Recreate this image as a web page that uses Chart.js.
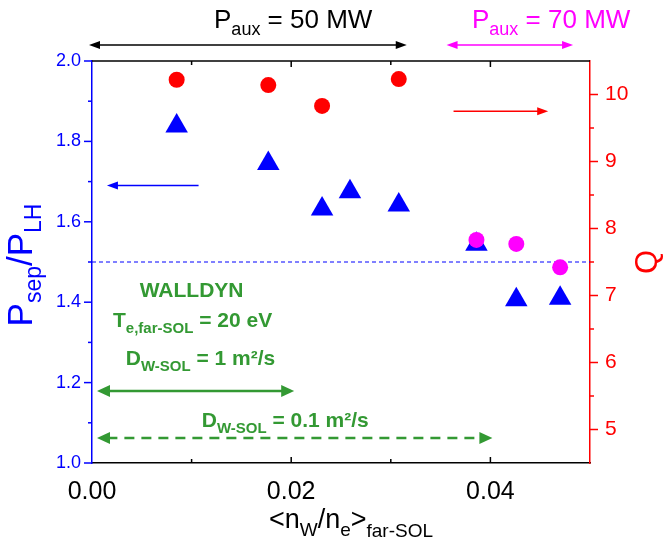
<!DOCTYPE html>
<html>
<head>
<meta charset="utf-8">
<script src="https://cdn.jsdelivr.net/npm/chart.js@4"></script>
<style>
  body { margin: 0; background: #fff; }
  canvas { display: block; }
</style>
</head>
<body>
<canvas id="chart" width="664" height="545"></canvas>
<script>
// data
var nW = [0.0085, 0.0177, 0.0231, 0.0259, 0.0308, 0.0386, 0.0426, 0.0470];
var pRatio = [1.838, 1.745, 1.632, 1.675, 1.642, 1.544, 1.406, 1.410];
var nW50 = [0.0085, 0.0177, 0.0231, 0.0308];
var q50 = [10.22, 10.14, 9.83, 10.23];
var nW70 = [0.0386, 0.0426, 0.0470];
var q70 = [7.83, 7.77, 7.42];
var xTickLabels = ['0.00', '0.02', '0.04'];

var FONT = '"Liberation Sans", Arial, sans-serif';
var GREEN = '#339933';

function pts(xs, ys) {
    return xs.map(function(x, i) { return {x: x, y: ys[i]}; });
}

// draw text made of pieces (for subscripts)
function rich(ctx, parts, x, y, align, color) {
    var w = 0;
    parts.forEach(function(p) {
        ctx.font = (p[3] ? 'bold ' : '') + p[1] + 'px ' + FONT;
        p.w = ctx.measureText(p[0]).width;
        w += p.w;
    });
    var sx = align === 'center' ? x - w / 2 : (align === 'right' ? x - w : x);
    ctx.fillStyle = color;
    ctx.textAlign = 'left';
    ctx.textBaseline = 'alphabetic';
    parts.forEach(function(p) {
        ctx.font = (p[3] ? 'bold ' : '') + p[1] + 'px ' + FONT;
        ctx.fillText(p[0], sx, y + p[2]);
        sx += p.w;
    });
}

function head(ctx, x, y, dir, len, half) {
    ctx.beginPath();
    ctx.moveTo(x, y);
    ctx.lineTo(x - dir * len, y - half);
    ctx.lineTo(x - dir * len, y + half);
    ctx.closePath();
    ctx.fill();
}

// arrow from x1 to x2 at y; heads: 'start', 'end', 'both'
function arrow(ctx, x1, x2, y, color, lw, heads, len, half, dash) {
    ctx.save();
    ctx.strokeStyle = color;
    ctx.fillStyle = color;
    ctx.lineWidth = lw;
    ctx.setLineDash(dash || []);
    ctx.beginPath();
    var a = (heads === 'start' || heads === 'both') ? x1 + len * 0.8 : x1;
    var b = (heads === 'end' || heads === 'both') ? x2 - len * 0.8 : x2;
    ctx.moveTo(a, y);
    ctx.lineTo(b, y);
    ctx.stroke();
    ctx.setLineDash([]);
    if (heads === 'start' || heads === 'both') head(ctx, x1, y, -1, len, half);
    if (heads === 'end' || heads === 'both') head(ctx, x2, y, 1, len, half);
    ctx.restore();
}

var decor = {
    id: 'decor',
    beforeDatasetsDraw: function(chart) {
        var ctx = chart.ctx, a = chart.chartArea, y = chart.scales.y;
        ctx.save();
        ctx.strokeStyle = '#0000ff';
        ctx.lineWidth = 1;
        ctx.setLineDash([4, 3]);
        ctx.beginPath();
        ctx.moveTo(a.left, y.getPixelForValue(1.5));
        ctx.lineTo(a.right, y.getPixelForValue(1.5));
        ctx.stroke();
        ctx.restore();
    },
    afterDatasetsDraw: function(chart) {
        var ctx = chart.ctx, a = chart.chartArea;
        var x = chart.scales.x, y = chart.scales.y, q = chart.scales.yQ;
        var px = function(v) { return x.getPixelForValue(v); };
        var py = function(v) { return y.getPixelForValue(v); };

        // frame top line and ticks
        ctx.save();
        ctx.strokeStyle = '#000';
        ctx.lineWidth = 1.5;
        ctx.beginPath();
        ctx.moveTo(a.left, a.top);
        ctx.lineTo(a.right, a.top);
        ctx.stroke();
        for (var i = 1; i <= 4; i++) {
            var tx = px(i * 0.01), len = i % 2 === 0 ? 6 : 4;
            ctx.beginPath();
            ctx.moveTo(tx, a.top); ctx.lineTo(tx, a.top + len);
            ctx.moveTo(tx, a.bottom); ctx.lineTo(tx, a.bottom - len);
            ctx.stroke();
        }
        // left ticks
        ctx.strokeStyle = '#0000ff';
        for (var k = 0; k <= 10; k++) {
            var ty = py(1 + k * 0.1);
            ctx.beginPath();
            ctx.moveTo(a.left, ty); ctx.lineTo(a.left - (k % 2 === 0 ? 8 : 4), ty);
            ctx.stroke();
        }
        // right ticks
        ctx.strokeStyle = '#ff0000';
        for (var m = 1; m <= 11; m++) {
            var v = 4.5 + m * 0.5, qy = q.getPixelForValue(v);
            ctx.beginPath();
            ctx.moveTo(a.right, qy); ctx.lineTo(a.right + (v % 1 === 0 ? 8 : 4), qy);
            ctx.stroke();
        }
        ctx.restore();

        // power arrows above the frame
        arrow(ctx, px(-0.0003), px(0.0316), a.top - 16, '#000', 1.5, 'both', 11, 4);
        arrow(ctx, px(0.0356), px(0.0483), a.top - 16, '#ff00ff', 1.5, 'both', 11, 4);
        rich(ctx, [['P', 26, 0], ['aux', 18, 7], [' = 50 MW', 26, 0]], px(0.0202), 28, 'center', '#000');
        rich(ctx, [['P', 26, 0], ['aux', 18, 7], [' = 70 MW', 26, 0]], px(0.0461), 28, 'center', '#ff00ff');

        // axis pointers
        arrow(ctx, px(0.0015), px(0.0107), py(1.69), '#0000ff', 1.5, 'start', 11, 4);
        arrow(ctx, px(0.0363), px(0.0458), q.getPixelForValue(9.75), '#ff0000', 1.5, 'end', 11, 4);

        // WALLDYN block
        rich(ctx, [['WALLDYN', 21, 0, true]], px(0.0100), py(1.413), 'center', GREEN);
        rich(ctx, [['T', 21, 0, true], ['e,far-SOL', 15, 6, true], [' = 20 eV', 21, 0, true]],
            px(0.0101), py(1.338), 'center', GREEN);
        rich(ctx, [['D', 21, 0, true], ['W-SOL', 15, 6, true], [' = 1 m\u00b2/s', 21, 0, true]],
            px(0.0109), py(1.244), 'center', GREEN);
        rich(ctx, [['D', 21, 0, true], ['W-SOL', 15, 6, true], [' = 0.1 m\u00b2/s', 21, 0, true]],
            px(0.0194), py(1.0896), 'center', GREEN);
        arrow(ctx, px(0.0005), px(0.0203), py(1.179), GREEN, 2.5, 'both', 13, 6);
        arrow(ctx, px(0.0005), px(0.0402), py(1.062), GREEN, 2.5, 'both', 13, 6, [10, 7]);

        // axis titles
        rich(ctx, [['<n', 27, 0], ['W', 19, 8], ['/n', 27, 0], ['e', 19, 8], ['>', 27, 0], ['far-SOL', 19, 9]],
            (a.left + a.right) / 2 + 10, 528, 'center', '#000');
        ctx.save();
        ctx.translate(32, 265);
        ctx.rotate(-Math.PI / 2);
        rich(ctx, [['P', 35, 0], ['sep', 23, 9], ['/P', 35, 0], ['LH', 23, 9]], 0, 0, 'center', '#0000ff');
        ctx.restore();
        ctx.save();
        ctx.translate(657, 262);
        ctx.rotate(-Math.PI / 2);
        rich(ctx, [['Q', 31, 0]], 0, 0, 'center', '#ff0000');
        ctx.restore();
    }
};

new Chart(document.getElementById('chart'), {
    type: 'scatter',
    data: {
        datasets: [{
            label: 'Q, 50 MW',
            data: pts(nW50, q50),
            yAxisID: 'yQ',
            pointStyle: 'circle',
            pointRadius: 8,
            backgroundColor: '#ff0000',
            borderWidth: 0
        }, {
            label: 'Q, 70 MW',
            data: pts(nW70, q70),
            yAxisID: 'yQ',
            pointStyle: 'circle',
            pointRadius: 8,
            backgroundColor: '#ff00ff',
            borderWidth: 0
        }, {
            label: 'Psep/PLH',
            data: pts(nW, pRatio),
            yAxisID: 'y',
            pointStyle: 'triangle',
            pointRadius: 13,
            backgroundColor: '#0000ff',
            borderWidth: 0
        }]
    },
    options: {
        responsive: false,
        animation: false,
        devicePixelRatio: 1,
        layout: { padding: { top: 61, left: 0, right: 0, bottom: 0 } },
        plugins: {
            legend: { display: false },
            tooltip: { enabled: false }
        },
        scales: {
            x: {
                type: 'linear',
                min: 0,
                max: 0.05,
                afterFit: function(s) { s.height = 82; },
                afterBuildTicks: function(s) {
                    s.ticks = [0, 0.01, 0.02, 0.03, 0.04, 0.05].map(function(v) { return {value: v}; });
                },
                grid: { display: false },
                border: { display: true, color: '#000', width: 1.5 },
                ticks: {
                    autoSkip: false,
                    maxRotation: 0,
                    padding: 6,
                    color: '#000',
                    font: { family: FONT, size: 25 },
                    callback: function(v) {
                        var i = Math.round(v * 100);
                        return i % 2 === 0 && i < 5 ? xTickLabels[i / 2] : '';
                    }
                }
            },
            y: {
                position: 'left',
                min: 1.0,
                max: 2.0,
                afterFit: function(s) { s.width = 92; },
                grid: { display: false },
                border: { display: true, color: '#0000ff', width: 1.5 },
                ticks: {
                    stepSize: 0.1,
                    padding: 3,
                    color: '#0000ff',
                    font: { family: FONT, size: 18 },
                    callback: function(v) {
                        return Math.round(v * 10) % 2 === 0 ? v.toFixed(1) : '';
                    }
                }
            },
            yQ: {
                position: 'right',
                min: 4.5,
                max: 10.5,
                afterFit: function(s) { s.width = 74; },
                grid: { display: false },
                border: { display: true, color: '#ff0000', width: 1.5 },
                ticks: {
                    stepSize: 0.5,
                    padding: 7,
                    color: '#ff0000',
                    font: { family: FONT, size: 21 },
                    callback: function(v) {
                        return v % 1 === 0 ? String(v) : '';
                    }
                }
            }
        }
    },
    plugins: [decor]
});
</script>
</body>
</html>
